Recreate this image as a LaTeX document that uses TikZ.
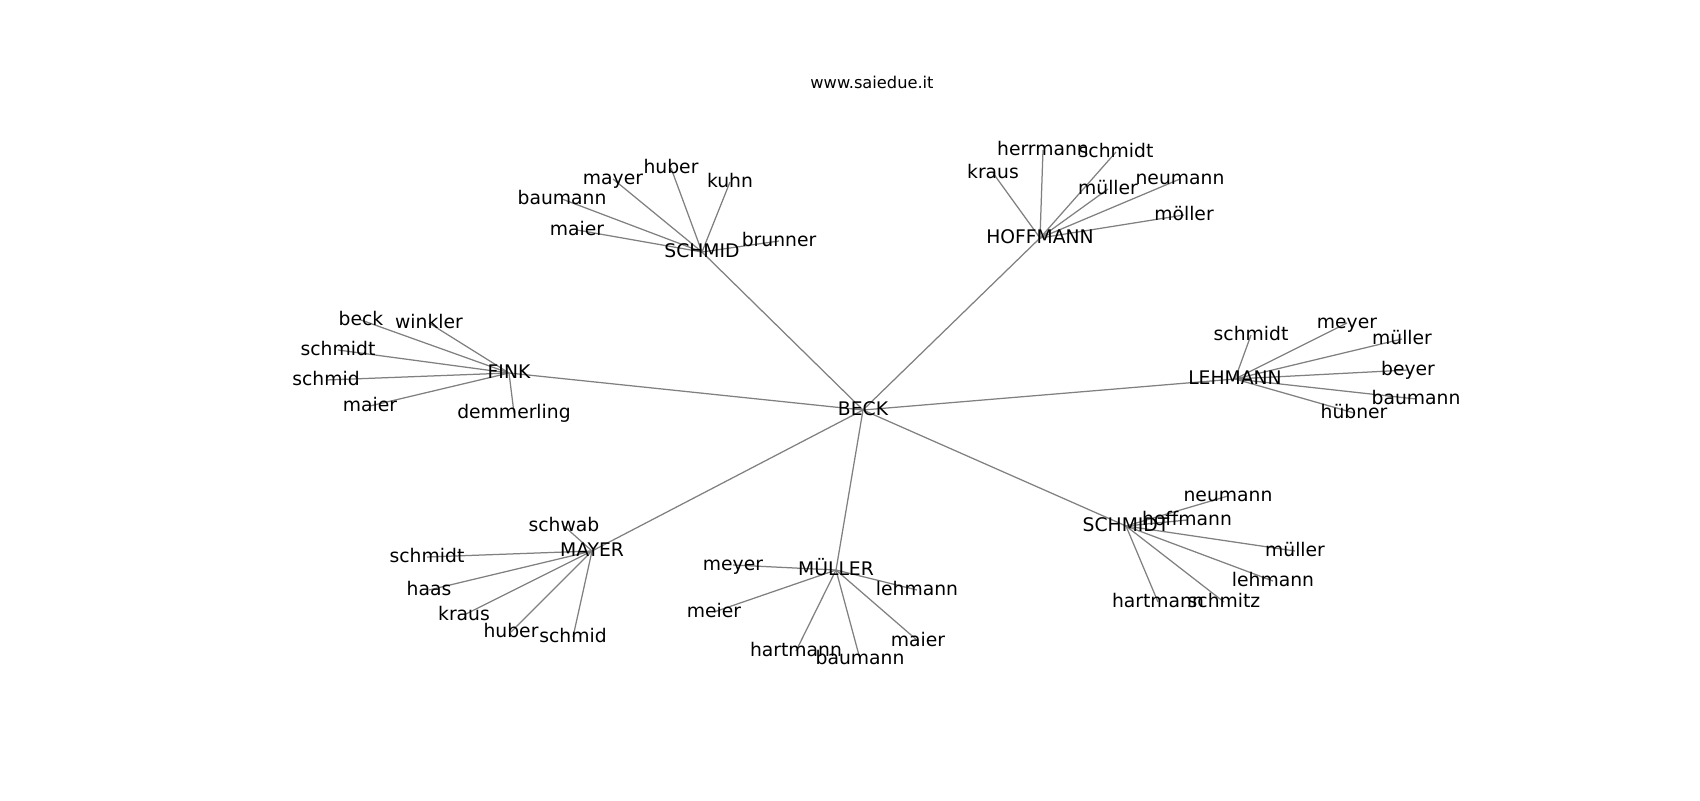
\documentclass[tikz,border=0pt]{standalone}
\usepackage{fontspec}
\setmainfont{DejaVu Sans}
\usetikzlibrary{backgrounds}
\tikzset{
  lbl/.style={inner sep=0pt, text height=0.76em, text depth=0em, font=\fontsize{13.5}{16}\selectfont, text=black},
  ttl/.style={inner sep=0pt, font=\fontsize{11.7}{14}\selectfont, text=black},
  edge/.style={draw=gray, line width=0.9pt}
}
\begin{document}
\begin{tikzpicture}[x=0.72pt,y=-0.72pt]
\useasboundingbox (0,0) rectangle (1700,800);
\node[ttl] (title) at (872,82) {www.saiedue.it};
\begin{scope}[shift={(0,2)}]
% hubs
\node[lbl] (beck) at (863,408) {BECK};
\node[lbl] (schmidH) at (702,250) {SCHMID};
\node[lbl] (hoff) at (1040,236) {HOFFMANN};
\node[lbl] (fink) at (509,371) {FINK};
\node[lbl] (lehm) at (1235,377) {LEHMANN};
\node[lbl] (schmidtH) at (1126,524) {SCHMIDT};
\node[lbl] (mayerH) at (592,549) {MAYER};
\node[lbl] (muellerH) at (836,568) {MÜLLER};
% SCHMID leaves
\node[lbl] (a1) at (577,228) {maier};
\node[lbl] (a2) at (562,197) {baumann};
\node[lbl] (a3) at (613,177) {mayer};
\node[lbl] (a4) at (671,166) {huber};
\node[lbl] (a5) at (730,180) {kuhn};
\node[lbl] (a6) at (779,239) {brunner};
% HOFFMANN leaves
\node[lbl] (b1) at (993,171) {kraus};
\node[lbl] (b2) at (1043,148) {herrmann};
\node[lbl] (b3) at (1116,150) {schmidt};
\node[lbl] (b4) at (1108,187) {müller};
\node[lbl] (b5) at (1180,177) {neumann};
\node[lbl] (b6) at (1184,213) {möller};
% FINK leaves
\node[lbl] (c1) at (361,318) {beck};
\node[lbl] (c2) at (429,321) {winkler};
\node[lbl] (c3) at (338,348) {schmidt};
\node[lbl] (c4) at (326,378) {schmid};
\node[lbl] (c5) at (370,404) {maier};
\node[lbl] (c6) at (514,411) {demmerling};
% LEHMANN leaves
\node[lbl] (d1) at (1251,333) {schmidt};
\node[lbl] (d2) at (1347,321) {meyer};
\node[lbl] (d3) at (1402,337) {müller};
\node[lbl] (d4) at (1408,368) {beyer};
\node[lbl] (d5) at (1416,397) {baumann};
\node[lbl] (d6) at (1354,411) {hübner};
% SCHMIDT leaves
\node[lbl] (e1) at (1228,494) {neumann};
\node[lbl] (e2) at (1187,518) {hoffmann};
\node[lbl] (e3) at (1295,549) {müller};
\node[lbl] (e4) at (1273,579) {lehmann};
\node[lbl] (e5) at (1224,600) {schmitz};
\node[lbl] (e6) at (1158,600) {hartmann};
% MAYER leaves
\node[lbl] (f1) at (564,524) {schwab};
\node[lbl] (f2) at (427,555) {schmidt};
\node[lbl] (f3) at (429,588) {haas};
\node[lbl] (f4) at (464,613) {kraus};
\node[lbl] (f5) at (511,630) {huber};
\node[lbl] (f6) at (573,635) {schmid};
% MUELLER leaves
\node[lbl] (g1) at (733,563) {meyer};
\node[lbl] (g2) at (714,610) {meier};
\node[lbl] (g3) at (917,588) {lehmann};
\node[lbl] (g4) at (796,649) {hartmann};
\node[lbl] (g5) at (860,657) {baumann};
\node[lbl] (g6) at (918,639) {maier};
\end{scope}
\begin{pgfonlayer}{background}
\foreach \h in {schmidH,hoff,fink,lehm,schmidtH,mayerH,muellerH}
  \draw[edge] (beck.center) -- (\h.center);
\foreach \l in {a1,a2,a3,a4,a5,a6} \draw[edge] (schmidH.center) -- (\l.center);
\foreach \l in {b1,b2,b3,b4,b5,b6} \draw[edge] (hoff.center) -- (\l.center);
\foreach \l in {c1,c2,c3,c4,c5,c6} \draw[edge] (fink.center) -- (\l.center);
\foreach \l in {d1,d2,d3,d4,d5,d6} \draw[edge] (lehm.center) -- (\l.center);
\foreach \l in {e1,e2,e3,e4,e5,e6} \draw[edge] (schmidtH.center) -- (\l.center);
\foreach \l in {f1,f2,f3,f4,f5,f6} \draw[edge] (mayerH.center) -- (\l.center);
\foreach \l in {g1,g2,g3,g4,g5,g6} \draw[edge] (muellerH.center) -- (\l.center);
\end{pgfonlayer}
\end{tikzpicture}
\end{document}
